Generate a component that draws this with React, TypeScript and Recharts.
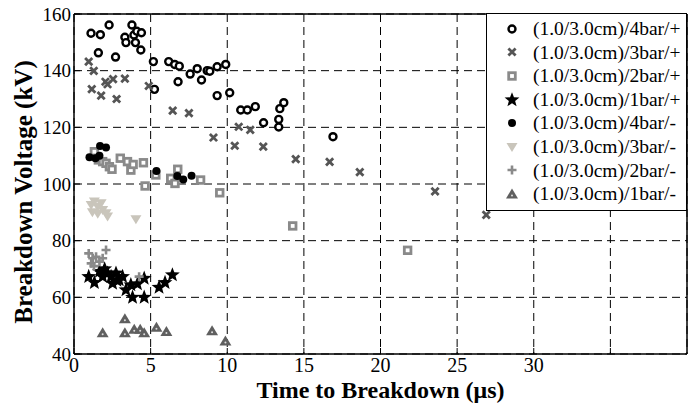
import React from 'react'
import {
  ScatterChart,
  Scatter,
  XAxis,
  YAxis,
  CartesianGrid,
  ReferenceLine,
  Legend,
} from 'recharts'

// values: [time (µs), voltage (kV)]
const pos4bar = [
  [1.11, 153.2], [1.72, 152.7], [1.59, 146.3], [2.29, 156.1], [2.71, 144.8], [3.32, 151.8],
  [3.39, 149.9], [3.78, 156.1], [3.91, 152.6], [4.01, 149.9], [4.1, 153.9], [4.4, 153.4],
  [4.36, 147.3], [5.18, 143.2], [5.25, 133.4], [6.18, 143.2], [6.57, 142.2], [6.87, 141.6],
  [6.79, 136.1], [7.58, 138.8], [8.04, 140.7], [8.32, 136.7], [8.69, 140.0], [8.86, 139.8],
  [9.34, 141.4], [9.34, 131.2], [9.9, 142.2], [10.16, 132.2], [10.88, 126.1], [11.31, 126.1],
  [11.83, 127.3], [12.37, 121.6], [13.36, 122.8], [13.36, 120.1], [13.43, 126.6], [13.69, 128.7],
  [16.9, 116.7],
]
const pos3bar = [
  [0.96, 143.2], [1.29, 139.9], [1.16, 133.5], [1.77, 131.2], [2.05, 136.1], [2.19, 135.2],
  [2.55, 137.0], [2.78, 130.0], [3.32, 137.2], [4.88, 134.6], [6.44, 125.9], [7.5, 125.0],
  [9.1, 116.4], [10.75, 120.2], [11.5, 119.1], [10.49, 113.5], [12.35, 113.2], [14.47, 108.8],
  [16.68, 107.8], [18.65, 104.2], [23.56, 97.4], [26.9, 89.1],
]
const pos2bar = [
  [1.33, 111.4], [1.59, 108.5], [1.87, 107.9], [2.09, 107.3], [2.31, 106.1], [2.48, 105.2],
  [3.02, 109.1], [3.49, 107.9], [3.71, 104.9], [3.86, 106.9], [4.53, 107.5], [4.64, 99.3],
  [5.34, 103.2], [6.31, 102.0], [6.59, 100.2], [6.77, 105.2], [8.26, 101.4], [9.51, 96.9],
  [14.27, 85.2], [21.77, 76.6],
]
const pos1bar = [
  [0.96, 67.3], [1.33, 65.2], [1.66, 69.1], [1.87, 67.3], [2.19, 68.5], [2.42, 67.3],
  [2.52, 64.9], [2.74, 68.5], [2.95, 66.1], [3.17, 67.3], [3.39, 62.6], [3.71, 64.4],
  [3.82, 60.0], [4.14, 64.7], [4.58, 66.7], [4.58, 60.0], [5.55, 63.5], [5.94, 65.2],
  [6.42, 67.9], [2.0, 70.0], [2.8, 66.0],
]
const neg4bar = [
  [1.01, 109.4], [1.4, 109.1], [1.66, 110.0], [1.7, 113.4], [2.09, 112.9], [5.38, 104.6],
  [6.74, 102.8], [7.13, 101.6], [7.67, 102.9],
]
const neg3bar = [
  [1.12, 92.6], [1.33, 93.8], [1.55, 92.0], [1.77, 93.2], [1.87, 90.8], [2.09, 89.7],
  [2.19, 88.5], [4.04, 87.6], [1.2, 90.0], [1.55, 89.5],
]
const neg2bar = [
  [0.96, 75.5], [1.22, 73.8], [1.12, 72.0], [1.44, 74.3], [1.66, 72.6], [2.09, 76.7],
  [1.87, 73.8], [4.25, 67.3], [1.3, 71.0],
]
const neg1bar = [
  [1.87, 47.5], [3.32, 52.4], [3.32, 47.5], [3.93, 48.7], [4.32, 48.7], [4.58, 47.5],
  [5.38, 49.4], [6.03, 47.9], [9.01, 48.2], [9.88, 44.6],
]

const xTicks = [0, 5, 10, 15, 20, 25, 30, 35]
const yTicks = [40, 60, 80, 100, 120, 140, 160]

const FONT = "'Liberation Serif', 'Times New Roman', serif"

const toPoints = (arr: number[][]) => arr.map(([x, y]) => ({ x, y }))

// marker shapes
const openCircle = ({ cx, cy }: any) => (
  <circle cx={cx} cy={cy} r={3.5} fill="#fff" stroke="#000" strokeWidth={2.4} />
)
const cross = ({ cx, cy }: any) => (
  <path
    d={`M${cx - 3.6},${cy - 3.6}L${cx + 3.6},${cy + 3.6}M${cx - 3.6},${cy + 3.6}L${cx + 3.6},${cy - 3.6}`}
    stroke="#555"
    strokeWidth={2.8}
  />
)
const square = ({ cx, cy }: any) => (
  <rect x={cx - 3.3} y={cy - 3.3} width={6.6} height={6.6} fill="#fff" stroke="#8a8a8a" strokeWidth={2.8} />
)
const starPath = (cx: number, cy: number, R: number, r: number) => {
  let d = ''
  for (let i = 0; i < 10; i++) {
    const rad = i % 2 === 0 ? R : r
    const a = -Math.PI / 2 + (i * Math.PI) / 5
    d += `${i === 0 ? 'M' : 'L'}${cx + rad * Math.cos(a)},${cy + rad * Math.sin(a)}`
  }
  return d + 'Z'
}
const star = ({ cx, cy }: any) => <path d={starPath(cx, cy, 7.8, 3.3)} fill="#000" />
const dot = ({ cx, cy }: any) => <circle cx={cx} cy={cy} r={4} fill="#000" />
const downTri = ({ cx, cy }: any) => (
  <path d={`M${cx - 5.5},${cy - 4}L${cx + 5.5},${cy - 4}L${cx},${cy + 5}Z`} fill="#c9c5bb" />
)
const plus = ({ cx, cy }: any) => (
  <path d={`M${cx - 4.5},${cy}L${cx + 4.5},${cy}M${cx},${cy - 4.5}L${cx},${cy + 4.5}`} stroke="#8a8a8a" strokeWidth={2.6} />
)
const upTri = ({ cx, cy }: any) => (
  <g>
    <path d={`M${cx - 6},${cy + 4.5}L${cx + 6},${cy + 4.5}L${cx},${cy - 5.5}Z`} fill="#5f5f5f" />
    <circle cx={cx} cy={cy + 1.5} r={1} fill="#ddd" />
  </g>
)

const series = [
  { name: '(1.0/3.0cm)/4bar/+', data: pos4bar, shape: openCircle },
  { name: '(1.0/3.0cm)/3bar/+', data: pos3bar, shape: cross },
  { name: '(1.0/3.0cm)/2bar/+', data: pos2bar, shape: square },
  { name: '(1.0/3.0cm)/1bar/+', data: pos1bar, shape: star },
  { name: '(1.0/3.0cm)/4bar/-', data: neg4bar, shape: dot },
  { name: '(1.0/3.0cm)/3bar/-', data: neg3bar, shape: downTri },
  { name: '(1.0/3.0cm)/2bar/-', data: neg2bar, shape: plus },
  { name: '(1.0/3.0cm)/1bar/-', data: neg1bar, shape: upTri },
]

const LegendBox = () => (
  <div
    style={{
      background: '#fff',
      border: '1.5px solid #000',
      padding: '3px 0 4px 0',
      fontFamily: FONT,
      fontSize: 19.5,
      lineHeight: '23.6px',
    }}
  >
    {series.map((s) => (
      <div key={s.name} style={{ display: 'flex', alignItems: 'center', height: 23.6 }}>
        <svg width={46} height={20} style={{ flex: 'none' }}>
          {s.shape({ cx: 25, cy: 10 })}
        </svg>
        <span style={{ whiteSpace: 'nowrap' }}>{s.name}</span>
      </div>
    ))}
  </div>
)

export default function App() {
  return (
    <div style={{ width: 694, height: 407, position: 'relative' }}>
      <style>{`body{margin:0}`}</style>
      <ScatterChart width={694} height={407} margin={{ top: 14, right: 7, bottom: 0, left: 0 }}>
        <CartesianGrid stroke="#000" strokeDasharray="8 5" strokeWidth={1} />
        <XAxis
          type="number"
          dataKey="x"
          domain={[0, 40]}
          ticks={xTicks}
          tickFormatter={(v: number) => (v === 35 ? '' : String(v))}
          height={53}
          tickSize={-6}
          tickMargin={10}
          axisLine={{ stroke: '#000', strokeWidth: 1.5 }}
          tickLine={{ stroke: '#000' }}
          tick={{ fill: '#000', fontSize: 20, fontFamily: FONT }}
          label={() => (
            <text
              x={74 + 613 / 2}
              y={398}
              textAnchor="middle"
              fontFamily={FONT}
              fontWeight="bold"
              fontSize={24}
              fill="#000"
            >
              Time to Breakdown (μs)
            </text>
          )}
        />
        <YAxis
          type="number"
          dataKey="y"
          domain={[40, 160]}
          ticks={yTicks}
          width={74}
          tickSize={-6}
          tickMargin={9}
          axisLine={{ stroke: '#000', strokeWidth: 1.5 }}
          tickLine={{ stroke: '#000' }}
          tick={{ fill: '#000', fontSize: 19, fontFamily: FONT }}
          label={() => (
            <text
              x={23}
              y={192}
              transform="rotate(-90 23 192)"
              textAnchor="middle"
              dominantBaseline="central"
              fontFamily={FONT}
              fontWeight="bold"
              fontSize={25}
              fill="#000"
            >
              Breakdown Voltage (kV)
            </text>
          )}
        />
        <ReferenceLine y={160} stroke="#000" strokeWidth={1.5} />
        <ReferenceLine x={40} stroke="#000" strokeWidth={1.5} />
        {series.map((s) => (
          <Scatter
            key={s.name}
            name={s.name}
            data={toPoints(s.data)}
            shape={s.shape}
            isAnimationActive={false}
          />
        ))}
        <Legend
          layout="vertical"
          align="center"
          verticalAlign="middle"
          content={() => <LegendBox />}
          wrapperStyle={{ left: 486, top: 13, width: 201, height: 'auto' }}
        />
      </ScatterChart>
    </div>
  )
}
